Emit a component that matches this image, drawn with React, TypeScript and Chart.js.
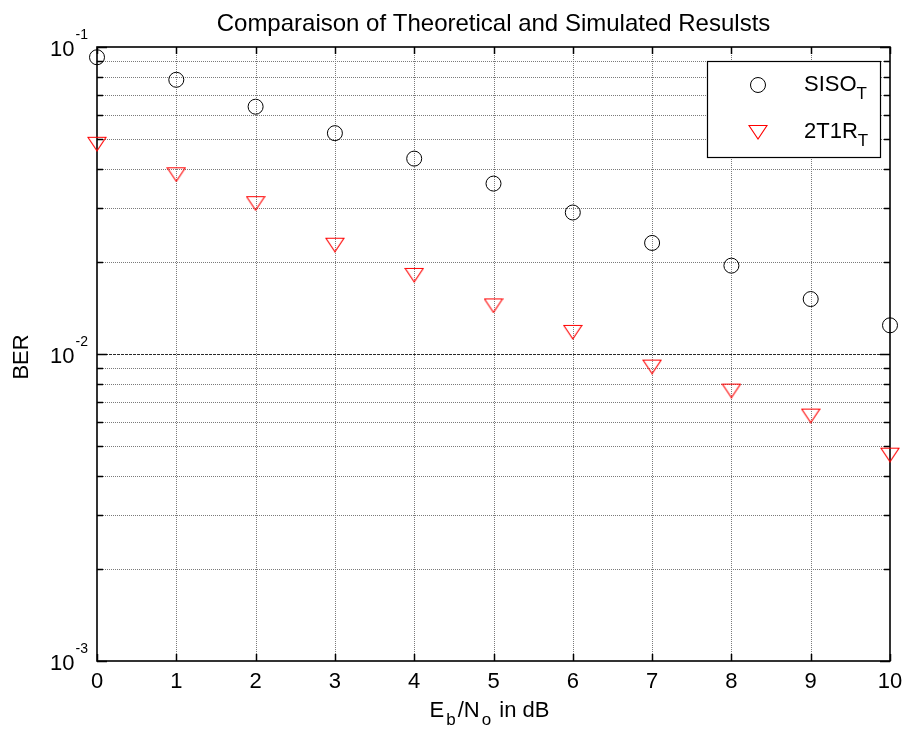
import React, { useEffect, useRef } from 'react';
import { Chart, registerables } from 'chart.js';

Chart.register(...registerables);

// ---------- data ----------
const snrDb = [0, 1, 2, 3, 4, 5, 6, 7, 8, 9, 10];
const sisoBer = [0.0926, 0.0782, 0.0639, 0.0524, 0.0433, 0.0359, 0.0289, 0.023, 0.0194, 0.0151, 0.0124];
const mimoBer = [0.0484, 0.0385, 0.031, 0.0227, 0.0181, 0.0144, 0.0118, 0.0091, 0.0076, 0.0063, 0.0047];
const xTickValues = [0, 1, 2, 3, 4, 5, 6, 7, 8, 9, 10];
const yDecadeExponents = [-3, -2, -1];
const yMantissas = [1, 2, 3, 4, 5, 6, 7, 8, 9];
const legendNames = ['SISO', '2T1R'];
const legendSubs = ['T', 'T'];
const chartTitle = 'Comparaison of Theoretical and Simulated Resulsts';
const yAxisTitle = 'BER';
const xAxisTitleParts = [
  { t: 'E', sub: false },
  { t: 'b', sub: true },
  { t: '/N', sub: false },
  { t: 'o', sub: true },
  { t: ' in dB', sub: false },
];

const FONT = '"Liberation Sans", Arial, Helvetica, sans-serif';
const AX_SIZE = 22;
const SUB_SIZE = 17;
const EXP_SIZE = 14;
const TITLE_SIZE = 24;

function buildYTicks(): number[] {
  const out: number[] = [];
  const maxExp = Math.max(...yDecadeExponents);
  for (const e of yDecadeExponents) {
    for (const m of yMantissas) {
      if (e === maxExp && m > 1) continue;
      out.push(parseFloat((m * Math.pow(10, e)).toPrecision(6)));
    }
  }
  return out;
}

function isDecade(v: number): boolean {
  const l = Math.log10(v);
  return Math.abs(l - Math.round(l)) < 1e-6;
}

function makeTriangle(color: string): HTMLCanvasElement {
  const w = 18;
  const h = 14;
  const c = document.createElement('canvas');
  c.width = w + 2;
  c.height = h + 2;
  const ctx = c.getContext('2d')!;
  ctx.strokeStyle = color;
  ctx.lineWidth = 1.1;
  ctx.beginPath();
  ctx.moveTo(1, 1.5);
  ctx.lineTo(w + 1, 1.5);
  ctx.lineTo(w / 2 + 1, h + 1);
  ctx.closePath();
  ctx.stroke();
  return c;
}

function drawSubText(
  ctx: CanvasRenderingContext2D,
  parts: { t: string; sub: boolean }[],
  x: number,
  y: number,
  align: 'left' | 'center',
  subGap: number
) {
  let total = 0;
  for (const p of parts) {
    ctx.font = `${p.sub ? SUB_SIZE : AX_SIZE}px ${FONT}`;
    total += ctx.measureText(p.t).width + (p.sub ? subGap * 2 : 0);
  }
  let cx = align === 'center' ? x - total / 2 : x;
  ctx.textAlign = 'left';
  ctx.textBaseline = 'alphabetic';
  for (const p of parts) {
    ctx.font = `${p.sub ? SUB_SIZE : AX_SIZE}px ${FONT}`;
    if (p.sub) cx += subGap;
    ctx.fillText(p.t, cx, p.sub ? y + 8 : y);
    cx += ctx.measureText(p.t).width + (p.sub ? subGap : 0);
  }
}

const matlabPlugin = {
  id: 'matlabLook',
  beforeDraw(chart: any) {
    const { ctx, width, height } = chart;
    ctx.save();
    ctx.fillStyle = '#ffffff';
    ctx.fillRect(0, 0, width, height);
    ctx.restore();
  },
  beforeDatasetsDraw(chart: any) {
    const { ctx, chartArea: a, scales } = chart;
    const xs = scales.x;
    const ys = scales.y;
    ctx.save();
    // grid
    ctx.lineWidth = 1;
    for (const t of xs.ticks) {
      const px = Math.round(xs.getPixelForValue(t.value)) + 0.5;
      if (px <= a.left + 1 || px >= a.right - 1) continue;
      ctx.strokeStyle = '#7a7a7a';
      ctx.setLineDash([1, 1]);
      ctx.beginPath();
      ctx.moveTo(px, a.top);
      ctx.lineTo(px, a.bottom);
      ctx.stroke();
    }
    for (const t of ys.ticks) {
      const py = Math.round(ys.getPixelForValue(t.value)) + 0.5;
      if (py <= a.top + 1 || py >= a.bottom - 1) continue;
      const dec = isDecade(t.value);
      ctx.strokeStyle = dec ? '#2a2a2a' : '#7a7a7a';
      ctx.setLineDash(dec ? [3, 1] : [1, 1]);
      ctx.beginPath();
      ctx.moveTo(a.left, py);
      ctx.lineTo(a.right, py);
      ctx.stroke();
    }
    ctx.setLineDash([]);
    // inner ticks
    ctx.strokeStyle = '#000';
    ctx.lineWidth = 1.5;
    for (const t of xs.ticks) {
      const px = Math.round(xs.getPixelForValue(t.value)) + 0.5;
      ctx.beginPath();
      ctx.moveTo(px, a.bottom);
      ctx.lineTo(px, a.bottom - 7);
      ctx.moveTo(px, a.top);
      ctx.lineTo(px, a.top + 7);
      ctx.stroke();
    }
    for (const t of ys.ticks) {
      const py = Math.round(ys.getPixelForValue(t.value)) + 0.5;
      const len = isDecade(t.value) ? 10 : 6;
      ctx.beginPath();
      ctx.moveTo(a.left, py);
      ctx.lineTo(a.left + len, py);
      ctx.moveTo(a.right, py);
      ctx.lineTo(a.right - len, py);
      ctx.stroke();
    }
    // box
    ctx.lineWidth = 1.6;
    ctx.strokeRect(a.left, a.top, a.right - a.left, a.bottom - a.top);
    ctx.restore();
  },
  afterDraw(chart: any) {
    const { ctx, chartArea: a, scales } = chart;
    const ys = scales.y;
    ctx.save();
    ctx.fillStyle = '#000';
    // y tick labels 10^e
    for (const t of ys.ticks) {
      if (!isDecade(t.value)) continue;
      const py = ys.getPixelForValue(t.value);
      const e = Math.round(Math.log10(t.value));
      const expStr = `${e}`;
      ctx.textBaseline = 'alphabetic';
      ctx.textAlign = 'right';
      ctx.font = `${EXP_SIZE}px ${FONT}`;
      const ew = ctx.measureText(expStr).width;
      const expRight = a.left - 9;
      ctx.fillText(expStr, expRight, py - 8);
      ctx.font = `${AX_SIZE}px ${FONT}`;
      ctx.fillText('10', expRight - ew - 1, py + 9);
    }
    // title
    ctx.font = `${TITLE_SIZE}px ${FONT}`;
    ctx.textAlign = 'center';
    ctx.textBaseline = 'alphabetic';
    ctx.fillText(chartTitle, (a.left + a.right) / 2, 31);
    // y axis title
    ctx.save();
    ctx.translate(22, (a.top + a.bottom) / 2 + 3);
    ctx.rotate(-Math.PI / 2);
    ctx.font = `${AX_SIZE}px ${FONT}`;
    ctx.textAlign = 'center';
    ctx.textBaseline = 'middle';
    ctx.fillText(yAxisTitle, 0, 0);
    ctx.restore();
    // x axis title
    drawSubText(ctx, xAxisTitleParts, (a.left + a.right) / 2 - 4, 717, 'center', 2);
    // legend
    const lw = 173;
    const lh = 96;
    const lx = a.right - 10 - lw;
    const ly = a.top + 14;
    ctx.fillStyle = '#fff';
    ctx.fillRect(lx, ly, lw, lh);
    ctx.strokeStyle = '#000';
    ctx.lineWidth = 1.2;
    ctx.strokeRect(lx + 0.5, ly + 0.5, lw, lh);
    const rowsY = [ly + 24, ly + 71];
    chart.data.datasets.forEach((ds: any, i: number) => {
      const mx = lx + 51;
      const my = rowsY[i];
      if (ds.pointStyle === 'circle') {
        ctx.strokeStyle = ds.borderColor;
        ctx.lineWidth = 1;
        ctx.beginPath();
        ctx.arc(mx, my, ds.pointRadius, 0, Math.PI * 2);
        ctx.stroke();
      } else {
        const img = ds.pointStyle as HTMLCanvasElement;
        ctx.drawImage(img, mx - img.width / 2, my - img.height / 2);
      }
      ctx.fillStyle = '#000';
      drawSubText(
        ctx,
        [
          { t: legendNames[i], sub: false },
          { t: legendSubs[i], sub: true },
        ],
        lx + 97,
        my + 6,
        'left',
        0
      );
    });
    ctx.restore();
  },
};

export default function App() {
  const canvasRef = useRef<HTMLCanvasElement | null>(null);

  useEffect(() => {
    document.body.style.margin = '0';
    const canvas = canvasRef.current;
    if (!canvas) return;
    const tri = makeTriangle('#ff0000');
    const yTicks = buildYTicks();
    const chart = new Chart(canvas, {
      type: 'scatter',
      data: {
        datasets: [
          {
            label: legendNames[0] + legendSubs[0],
            data: snrDb.map((x, i) => ({ x, y: sisoBer[i] })),
            pointStyle: 'circle',
            pointRadius: 7.5,
            pointHoverRadius: 7.5,
            borderColor: '#000000',
            backgroundColor: 'rgba(0,0,0,0)',
            borderWidth: 1,
            showLine: false,
            clip: false,
          } as any,
          {
            label: legendNames[1] + legendSubs[1],
            data: snrDb.map((x, i) => ({ x, y: mimoBer[i] })),
            pointStyle: tri,
            pointRadius: 9,
            pointHoverRadius: 9,
            borderColor: '#ff0000',
            backgroundColor: 'rgba(0,0,0,0)',
            borderWidth: 1,
            showLine: false,
            clip: false,
          } as any,
        ],
      },
      options: {
        responsive: false,
        animation: false,
        events: [],
        layout: { padding: { left: 0, top: 47, right: 14, bottom: 0 } },
        plugins: {
          legend: { display: false },
          title: { display: false },
          tooltip: { enabled: false },
        },
        scales: {
          x: {
            type: 'linear',
            min: 0,
            max: 10,
            afterBuildTicks: (s: any) => {
              s.ticks = xTickValues.map((v) => ({ value: v }));
            },
            afterFit: (s: any) => {
              s.height = 70;
              s.paddingLeft = 0;
              s.paddingRight = 0;
            },
            grid: { display: false, drawTicks: false },
            border: { display: false },
            ticks: {
              font: { family: FONT, size: AX_SIZE },
              color: '#000',
              padding: 8,
              maxRotation: 0,
              autoSkip: false,
              callback: (v: any) => String(v),
            },
          },
          y: {
            type: 'logarithmic',
            min: 0.001,
            max: 0.1,
            afterBuildTicks: (s: any) => {
              s.ticks = yTicks.map((v) => ({ value: v }));
            },
            afterFit: (s: any) => {
              s.width = 97;
              s.paddingTop = 0;
              s.paddingBottom = 0;
            },
            grid: { display: false, drawTicks: false },
            border: { display: false },
            ticks: { display: false },
          },
        },
      } as any,
      plugins: [matlabPlugin as any],
    });
    return () => chart.destroy();
  }, []);

  return (
    <div style={{ position: 'absolute', left: 0, top: 0, width: 904, height: 731, background: '#fff' }}>
      <canvas ref={canvasRef} width={904} height={731} style={{ display: 'block', width: 904, height: 731 }} />
    </div>
  );
}
